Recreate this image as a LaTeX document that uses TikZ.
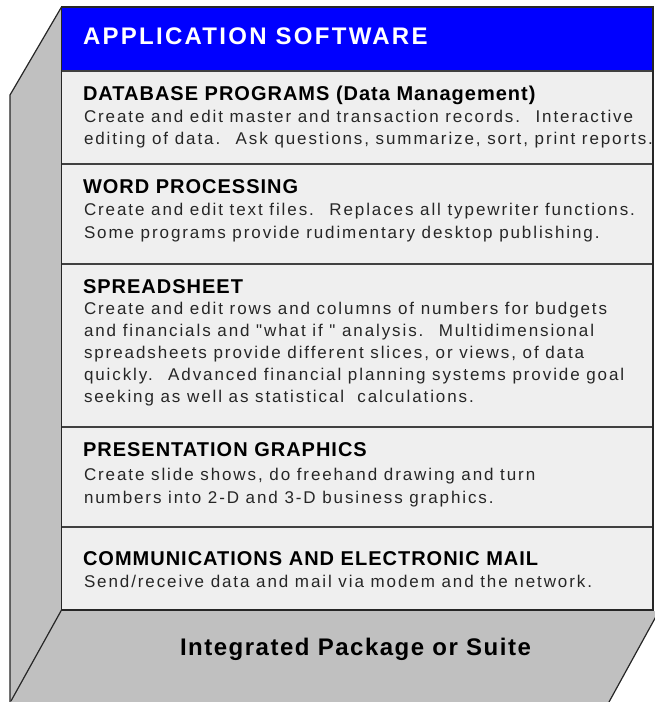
\documentclass[tikz,border=0pt]{standalone}
\usepackage{fontspec}
\setmainfont{Liberation Sans}
\newfontfamily\titlefont{Liberation Sans}[LetterSpace=9.5]
\newfontfamily\headfont{Liberation Sans}[LetterSpace=5]
\newfontfamily\bodyfont{Liberation Sans}[LetterSpace=11.2]
\newfontfamily\suitefont{Liberation Sans}[LetterSpace=6.3]
\definecolor{sidegray}{HTML}{C0C0C0}
\definecolor{panelgray}{HTML}{EFEFEF}
\definecolor{hdrblue}{HTML}{0000FF}
\begin{document}
\begin{tikzpicture}[x=1pt,y=-1pt,
  every node/.style={inner sep=0pt, outer sep=0pt, anchor=base west},
  titletext/.style={font=\titlefont\bfseries\fontsize{24}{24}\selectfont, text=white},
  headtext/.style={font=\headfont\bfseries\fontsize{20}{20}\selectfont, text=black},
  bodytext/.style={font=\bodyfont\fontsize{17}{17}\selectfont, text=black!85},
  suitetext/.style={font=\suitefont\bfseries\fontsize{24}{24}\selectfont, text=black},
  edgeline/.style={draw=black!85, line width=1.5pt},
  sepline/.style={draw=black!75, line width=2pt}]
\useasboundingbox (0,0) rectangle (654,702);
% side and bottom faces
\fill[sidegray] (61.5,7) -- (10,95) -- (10,702) -- (609,702) -- (659,611) -- (61.5,611) -- cycle;
% front panel
\fill[panelgray] (61.5,7) rectangle (653,610);
\fill[hdrblue] (61.5,7) rectangle (653,71);
\foreach \yy in {71,164,264,427,527} \draw[sepline] (61.5,\yy) -- (653,\yy);
\draw[edgeline] (61.5,7) rectangle (653,610);
% box edges
\draw[edgeline, line width=1.2pt] (61.5,7) -- (10,95) -- (10,702);
\draw[edgeline, line width=1.2pt] (61.5,610) -- (11,701);
\draw[edgeline, line width=1.2pt] (659,611) -- (609,702);
% texts
\node[titletext] (title) at (83,44) {APPLICATION SOFTWARE};
\node[headtext] (h1) at (83,100) {DATABASE PROGRAMS (Data Management)};
\node[bodytext] (b1a) at (84,122) {Create and edit master and transaction records.~ Interactive};
\node[bodytext] (b1b) at (84,144) {editing of data.~ Ask questions, summarize, sort, print reports.};
\node[headtext] (h2) at (83,193) {WORD PROCESSING};
\node[bodytext] (b2a) at (84,215) {Create and edit text files.~ Replaces all typewriter functions.};
\node[bodytext] (b2b) at (84,238) {Some programs provide rudimentary desktop publishing.};
\node[headtext] (h3) at (83,293) {SPREADSHEET};
\node[bodytext] (b3a) at (84,314) {Create and edit rows and columns of numbers for budgets};
\node[bodytext] (b3b) at (84,336) {and financials and "what if~" analysis.~ Multidimensional};
\node[bodytext] (b3c) at (84,358) {spreadsheets provide different slices, or views, of data};
\node[bodytext] (b3d) at (84,380) {quickly.~ Advanced financial planning systems provide goal};
\node[bodytext] (b3e) at (84,402) {seeking as well as statistical~ calculations.};
\node[headtext] (h4) at (83,456) {PRESENTATION GRAPHICS};
\node[bodytext] (b4a) at (84,480) {Create slide shows, do freehand drawing and turn};
\node[bodytext] (b4b) at (84,503) {numbers into 2-D and 3-D business graphics.};
\node[headtext] (h5) at (83,565) {COMMUNICATIONS AND ELECTRONIC MAIL};
\node[bodytext] (b5a) at (84,587) {Send/receive data and mail via modem and the network.};
\node[suitetext] (suite) at (180,655) {Integrated Package or Suite};
\end{tikzpicture}
\end{document}
